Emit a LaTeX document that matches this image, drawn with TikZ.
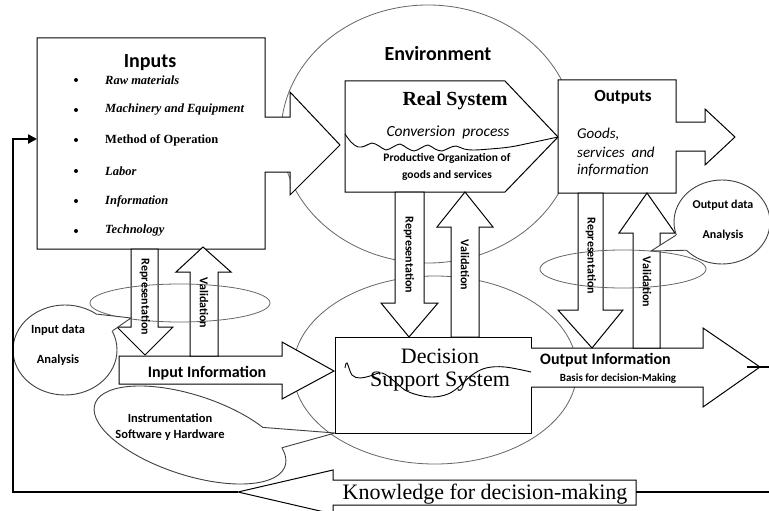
\documentclass[tikz,border=0pt]{standalone}
\usepackage{fontspec}
\setmainfont{Liberation Serif}
\newfontfamily\calib{Carlito}
\usetikzlibrary{arrows.meta,shapes.geometric}
\newcommand{\fs}[1]{\fontsize{#1}{#1}\selectfont}
\begin{document}
\begin{tikzpicture}[x=1pt,y=-1pt,
  shp/.style={draw=black,fill=white,line width=1pt,line join=miter},
  ell/.style={draw=black!60,line width=0.8pt},
  bub/.style={ellipse,draw=black!75,fill=white,line width=0.9pt,inner sep=0pt},
  bubline/.style={draw=black!75,fill=white,line width=0.9pt,line join=round},
  fb/.style={line width=2.4pt,line join=miter},
  sb/.style={inner sep=0pt,font=\calib\bfseries\fs{#1}},
  sb/.default=12,
  vlbl/.style={inner sep=0pt,rotate=-90,font=\calib\bfseries\fs{12}},
  item/.style={inner sep=0pt,anchor=west},
  bul/.style={fill=black,circle,inner sep=0pt,minimum size=4pt}]
\useasboundingbox (0,0) rectangle (769,511);
\clip (0,0) rectangle (769,511);
\fill[white] (0,0) rectangle (769,511);

% ellipses of environment and DSS
\draw[ell] (428,134) ellipse [x radius=147, y radius=129];
\draw[ell] (435,370) ellipse [x radius=142, y radius=94];

% Inputs box with arrow
\draw[shp] (37,38) -- (265,38) -- (265,117) -- (290,117) -- (290,92) -- (340,145)
  -- (290,195) -- (290,172) -- (265,172) -- (265,249) -- (37,249) -- cycle;
\coordinate (inW) at (37,139);
% Real system
\draw[shp] (345,81) -- (505,81) -- (558,137) -- (505,192) -- (345,192) -- cycle;
% Outputs box with arrow
\draw[shp] (558,80) -- (676,80) -- (676,122) -- (705,122) -- (705,109) -- (735,137)
  -- (705,165) -- (705,151) -- (676,151) -- (676,193) -- (558,193) -- cycle;
% DSS box
\draw[shp] (335,337) rectangle (531,433);
\coordinate (dssSW) at (335,433);
% Input information arrow
\draw[shp] (119,356) -- (282,356) -- (282,342) -- (334,371) -- (282,399) -- (282,384) -- (119,384) -- cycle;
% Output information arrow
\draw[shp] (531,348) -- (703,348) -- (703,328) -- (760,367) -- (703,407) -- (703,387) -- (531,387);
\coordinate (outTip) at (747,367);
% Knowledge arrow
\draw[shp] (636,480) -- (333,480) -- (333,470) -- (238,492) -- (333,514) -- (333,505) -- (636,505) -- cycle;
\coordinate (kTip) at (238,492);
\coordinate (kEnd) at (636,492);

% vertical arrows
\draw[shp] (131,249) -- (158,249) -- (158,327) -- (173,327) -- (145,355) -- (117,327) -- (131,327) -- cycle;
\draw[shp] (190,356) -- (190,272) -- (176,272) -- (203,247) -- (231,272) -- (218,272) -- (218,356) -- cycle;
\draw[shp] (395,192) -- (424,192) -- (424,303) -- (438,303) -- (409,337) -- (381,303) -- (395,303) -- cycle;
\draw[shp] (451,337) -- (451,227) -- (437,227) -- (465,192) -- (493,227) -- (479,227) -- (479,337) -- cycle;
\draw[shp] (578,193) -- (603,193) -- (603,310) -- (623,310) -- (592,348) -- (558,310) -- (578,310) -- cycle;
\draw[shp] (633,348) -- (633,233) -- (619,233) -- (647,193) -- (675,233) -- (660,233) -- (660,348) -- cycle;

% flat ellipses
\draw[ell] (180,303) ellipse [x radius=90, y radius=19];
\draw[ell] (623,269) ellipse [x radius=83, y radius=19];

% wavy lines
\draw[line width=0.9pt] plot[smooth,tension=0.6] coordinates {(345,134) (351,142) (358,147) (365,146) (372,143) (379,146) (386,150) (393,147) (400,144) (407,148) (414,151) (421,148) (428,145) (435,149) (442,151) (449,148) (456,146) (464,149) (474,150) (490,149) (510,147) (530,143) (558,137)};
\draw[line width=0.9pt] plot[smooth,tension=0.6] coordinates {(345,368) (347,363) (352,375) (360,378) (370,376) (382,373) (394,381) (405,390) (418,395) (433,397) (448,394) (460,386) (472,375) (486,368) (505,367) (531,372)};

% bubbles
\node[bub,minimum width=104pt,minimum height=90pt] (ida) at (65,350) {};
\coordinate (idaTip) at (131,318);
\fill[white] (ida.48) -- (idaTip) -- (ida.22) -- (ida.center) -- cycle;
\draw[black!75,line width=0.9pt] (ida.48) -- (idaTip) -- (ida.22);

\node[bub,minimum width=96pt,minimum height=84pt] (oda) at (722,222) {};
\coordinate (odaTip) at (651,251);
\fill[white] (oda.196) -- (odaTip) -- (oda.218) -- (oda.center) -- cycle;
\draw[black!75,line width=0.9pt] (oda.196) -- (odaTip) -- (oda.218);

\begin{scope}[shift={(190,435)},rotate=-18]
  \draw[bubline] ({100*cos(-48)},{40*sin(-48)}) arc[start angle=-48, end angle=-384, x radius=100, y radius=40]
    -- (dssSW) -- cycle;
\end{scope}

% feedback loop
\coordinate (eR1) at (769,367);
\coordinate (eR2) at (769,492);
\coordinate (lc1) at (13,492);
\coordinate (lc2) at (13,139);
\draw[fb] (outTip) -- (eR1);
\draw[fb] (eR2) -- (kEnd);
\draw[fb,-{Triangle[length=9pt,width=9pt]}] (kTip) -- (lc1) -- (lc2) -- (inW);

% texts
\node[sb=20] (tin) at (150,63) {Inputs};
\foreach \y/\t/\s in {80/Raw materials/\itshape, 110/Machinery and Equipment/\itshape, 140/Method of Operation/\upshape, 171/Labor/\itshape, 201/Information/\itshape, 231/Technology/\itshape}{
  \node[bul] at (76,\y) {};
  \node[item,font=\bfseries\s\fs{12.5}] at (105,\y) {\t};
}
\node[sb=20] (tenv) at (438,54) {Environment};
\node[inner sep=0pt,font=\bfseries\fs{20}] (trs) at (455,101) {Real System};
\node[inner sep=0pt,font=\calib\itshape\fs{15.5}] (tcp) at (448,132) {Conversion\ \ process};
\node[sb=11.5] (tpo1) at (447,158) {Productive Organization of};
\node[sb=11.5] (tpo2) at (447,175) {goods and services};
\node[sb=17] (tout) at (623,97) {Outputs};
\node[inner sep=0pt,anchor=west,font=\calib\itshape\fs{15}] (tg1) at (577,134) {Goods,};
\node[inner sep=0pt,anchor=west,font=\calib\itshape\fs{15}] (tg2) at (577,152) {services\ \ and};
\node[inner sep=0pt,anchor=west,font=\calib\itshape\fs{15}] (tg3) at (577,170) {information};
\node[sb=12] (tod1) at (723,205) {Output data};
\node[sb=12] (tod2) at (723,235) {Analysis};
\node[sb=12.5] (tid1) at (58,330) {Input data};
\node[sb=12.5] (tid2) at (58,360) {Analysis};
\node[sb=16] (tii) at (207,373) {Input Information};
\node[sb=16,anchor=west] (toi) at (540,360) {Output Information};
\node[sb=11] (tbd) at (618,379) {Basis for decision-Making};
\node[sb=12.5] (tins1) at (170,418) {Instrumentation};
\node[sb=12.5] (tins2) at (170,435) {Software y Hardware};
\node[inner sep=0pt,font=\fs{22}] (td1) at (440,356) {Decision};
\node[inner sep=0pt,font=\fs{22}] (td2) at (440,382) {Support System};
\node[inner sep=0pt,font=\fs{22}] (tk) at (485,494) {Knowledge for decision-making};
\node[vlbl] at (145,297) {Representation};
\node[vlbl] at (204,303) {Validation};
\node[vlbl] at (409,255) {Representation};
\node[vlbl] at (465,265) {Validation};
\node[vlbl] at (591,256) {Representation};
\node[vlbl] at (647,282) {Validation};
\end{tikzpicture}
\end{document}
